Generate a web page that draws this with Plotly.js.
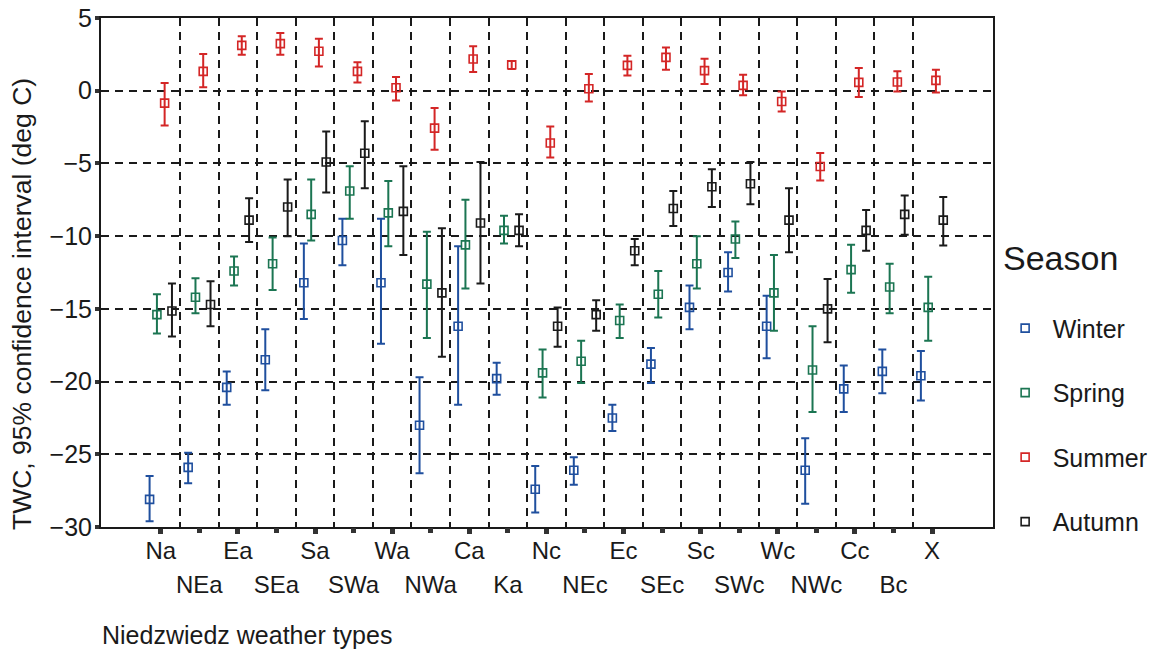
<!DOCTYPE html>
<html>
<head>
<meta charset="utf-8">
<script src="https://cdn.plot.ly/plotly-3.0.1.min.js"></script>
<style>
html,body{margin:0;padding:0;background:#fff;}
#chart{width:1152px;height:654px;}
</style>
</head>
<body>
<div id="chart"></div>
<script>
const categories = ['Na','NEa','Ea','SEa','Sa','SWa','Wa','NWa','Ca','Ka','Nc','NEc','Ec','SEc','Sc','SWc','Wc','NWc','Cc','Bc','X'];

const winterMean = [-28.1,-25.9,-20.4,-18.5,-13.2,-10.3,-13.2,-23.0,-16.2,-19.8,-27.4,-26.1,-22.5,-18.8,-14.9,-12.5,-16.2,-26.1,-20.5,-19.3,-19.6];
const winterLo   = [-29.6,-27.0,-21.6,-20.6,-15.7,-12.0,-17.4,-26.3,-21.6,-20.9,-29.0,-27.1,-23.4,-20.1,-16.4,-13.8,-18.4,-28.4,-22.1,-20.8,-21.3];
const winterHi   = [-26.5,-24.9,-19.3,-16.4,-10.5,-8.8,-8.8,-19.7,-10.7,-18.7,-25.8,-25.2,-21.6,-17.7,-13.4,-11.1,-14.1,-23.9,-18.9,-17.8,-17.9];

const springMean = [-15.4,-14.2,-12.4,-11.9,-8.5,-6.9,-8.4,-13.3,-10.6,-9.6,-19.4,-18.6,-15.8,-14.0,-11.9,-10.2,-13.9,-19.2,-12.3,-13.5,-14.9];
const springLo   = [-16.7,-15.3,-13.4,-13.7,-10.3,-8.8,-10.7,-17.0,-13.6,-10.5,-21.1,-20.1,-17.0,-15.6,-13.6,-11.5,-16.5,-22.1,-13.9,-15.3,-17.2];
const springHi   = [-14.0,-12.9,-11.4,-10.1,-6.1,-5.2,-6.2,-9.7,-7.5,-8.6,-17.8,-17.2,-14.7,-12.4,-10.0,-9.0,-11.3,-16.2,-10.6,-11.9,-12.8];

const summerMean = [-0.85,1.33,3.12,3.24,2.71,1.33,0.2,-2.57,2.18,1.79,-3.6,0.14,1.74,2.29,1.38,0.37,-0.74,-5.21,0.57,0.6,0.71];
const summerLo   = [-2.4,0.23,2.48,2.48,1.67,0.57,-0.67,-4.06,1.29,1.5,-4.59,-0.74,1.05,1.45,0.46,-0.32,-1.43,-6.18,-0.43,-0.05,-0.12];
const summerHi   = [0.53,2.53,3.74,3.97,3.58,1.95,0.94,-1.19,3.05,2.05,-2.46,1.15,2.41,2.98,2.2,1.1,-0.05,-4.29,1.56,1.33,1.45];

const autumnMean = [-15.15,-14.7,-8.9,-8.0,-4.9,-4.3,-8.3,-13.9,-9.1,-9.6,-16.2,-15.4,-11.0,-8.1,-6.6,-6.4,-8.9,-15.0,-9.6,-8.5,-8.9];
const autumnLo   = [-16.9,-16.2,-10.4,-10.0,-7.0,-6.7,-11.3,-18.3,-13.25,-10.7,-17.6,-16.5,-12.0,-9.3,-8.0,-7.8,-11.1,-17.3,-11.0,-9.9,-10.65];
const autumnHi   = [-13.25,-13.1,-7.4,-6.1,-2.8,-2.1,-5.2,-9.45,-4.9,-8.5,-14.9,-14.4,-10.2,-6.9,-5.4,-4.9,-6.7,-12.95,-8.2,-7.2,-7.3];

const yTicks = [-30,-25,-20,-15,-10,-5,0,5];

const seasons = [
  {name:'Winter', mean:winterMean, lo:winterLo, hi:winterHi, color:'#1f4f9e', off:-0.29},
  {name:'Spring', mean:springMean, lo:springLo, hi:springHi, color:'#1b7552', off:-0.10},
  {name:'Summer', mean:summerMean, lo:summerLo, hi:summerHi, color:'#d42626', off:0.10},
  {name:'Autumn', mean:autumnMean, lo:autumnLo, hi:autumnHi, color:'#1a1a1a', off:0.29}
];

const traces = seasons.map((s, k) => ({
  type:'scatter', mode:'markers', name:s.name, legendgroup:'g'+k,
  x: categories.map((c,i)=> i + s.off),
  y: s.mean,
  marker:{symbol:'square-open', size:8, color:s.color, line:{width:1.6, color:s.color}},
  error_y:{type:'data', symmetric:false,
    array: s.hi.map((h,i)=> h - s.mean[i]),
    arrayminus: s.lo.map((l,i)=> s.mean[i] - l),
    color:s.color, thickness:2, width:4},
  hoverinfo:'skip'
}));

const evenIdx = categories.map((c,i)=>i).filter(i=>i%2===0);
const oddIdx = categories.map((c,i)=>i).filter(i=>i%2===1);
const boundaries = categories.slice(1).map((c,i)=> i + 0.5);

const font = 'Liberation Sans, Arial, sans-serif';
const layout = {
  width:1152, height:654,
  margin:{l:101, r:159, t:18, b:127, autoexpand:false},
  paper_bgcolor:'#fff', plot_bgcolor:'#fff',
  font:{family:font, color:'#1a1a1a'},
  showlegend:true,
  xaxis:{
    range:[-1.55, 21.58], showgrid:false, zeroline:false,
    tickmode:'array', tickvals:evenIdx, ticktext:evenIdx.map(i=>categories[i]),
    ticks:'outside', ticklen:5, tickwidth:5, tickcolor:'#333',
    ticklabelstandoff:-4,
    tickfont:{size:24, family:font, color:'#1a1a1a'},
    showline:true, linecolor:'#1a1a1a', linewidth:2, mirror:true,
    minor:{tickmode:'array', tickvals:boundaries, showgrid:true, griddash:'8px,6px', gridcolor:'#1a1a1a', gridwidth:2, ticks:''}
  },
  xaxis2:{
    overlaying:'x', matches:'x', anchor:'y', side:'bottom',
    range:[-1.55, 21.58], showgrid:false, zeroline:false, showline:false,
    tickmode:'array', tickvals:oddIdx, ticktext:oddIdx.map(i=>categories[i]),
    ticks:'outside', ticklen:5, tickwidth:5, tickcolor:'#333',
    ticklabelstandoff:31,
    tickfont:{size:24, family:font, color:'#1a1a1a'}
  },
  yaxis:{
    range:[-30,5], tickmode:'array', tickvals:yTicks,
    showgrid:true, griddash:'8px,6px', gridcolor:'#1a1a1a', gridwidth:2, zeroline:false,
    ticks:'outside', ticklen:4, tickwidth:4, tickcolor:'#333',
    ticklabelstandoff:-2,
    tickfont:{size:25, family:font, color:'#1a1a1a'},
    showline:true, linecolor:'#1a1a1a', linewidth:2, mirror:true
  },
  legend:{
    xref:'container', yref:'container',
    x:0.866, xanchor:'left', y:0.533, yanchor:'top',
    font:{size:25, family:font, color:'#1a1a1a'},
    itemwidth:45,
    tracegroupgap:29, bgcolor:'rgba(0,0,0,0)'
  },
  annotations:[
    {text:'Season', xref:'paper', yref:'paper', x:1.009, y:(527-258)/509,
     xanchor:'left', yanchor:'middle', showarrow:false,
     font:{size:34, family:font, color:'#1a1a1a'}},
    {text:'TWC, 95% confidence interval (deg C)', textangle:-90, xref:'paper', yref:'paper',
     x:-0.0886, y:0.438, xanchor:'center', yanchor:'middle', showarrow:false,
     font:{size:26.5, family:font, color:'#1a1a1a'}},
    {text:'Niedzwiedz weather types', xref:'paper', yref:'paper',
     x:-0.001, y:-0.212, xanchor:'left', yanchor:'middle', showarrow:false,
     font:{size:25, family:font, color:'#1a1a1a'}}
  ]
};

// invisible trace so the second (label-only) x axis is drawn
traces.push({type:'scatter', x:[0], y:[-100], xaxis:'x2', yaxis:'y', mode:'markers', marker:{opacity:0}, showlegend:false, hoverinfo:'skip'});

Plotly.newPlot('chart', traces, layout, {displayModeBar:false, staticPlot:true});
</script>
</body>
</html>
